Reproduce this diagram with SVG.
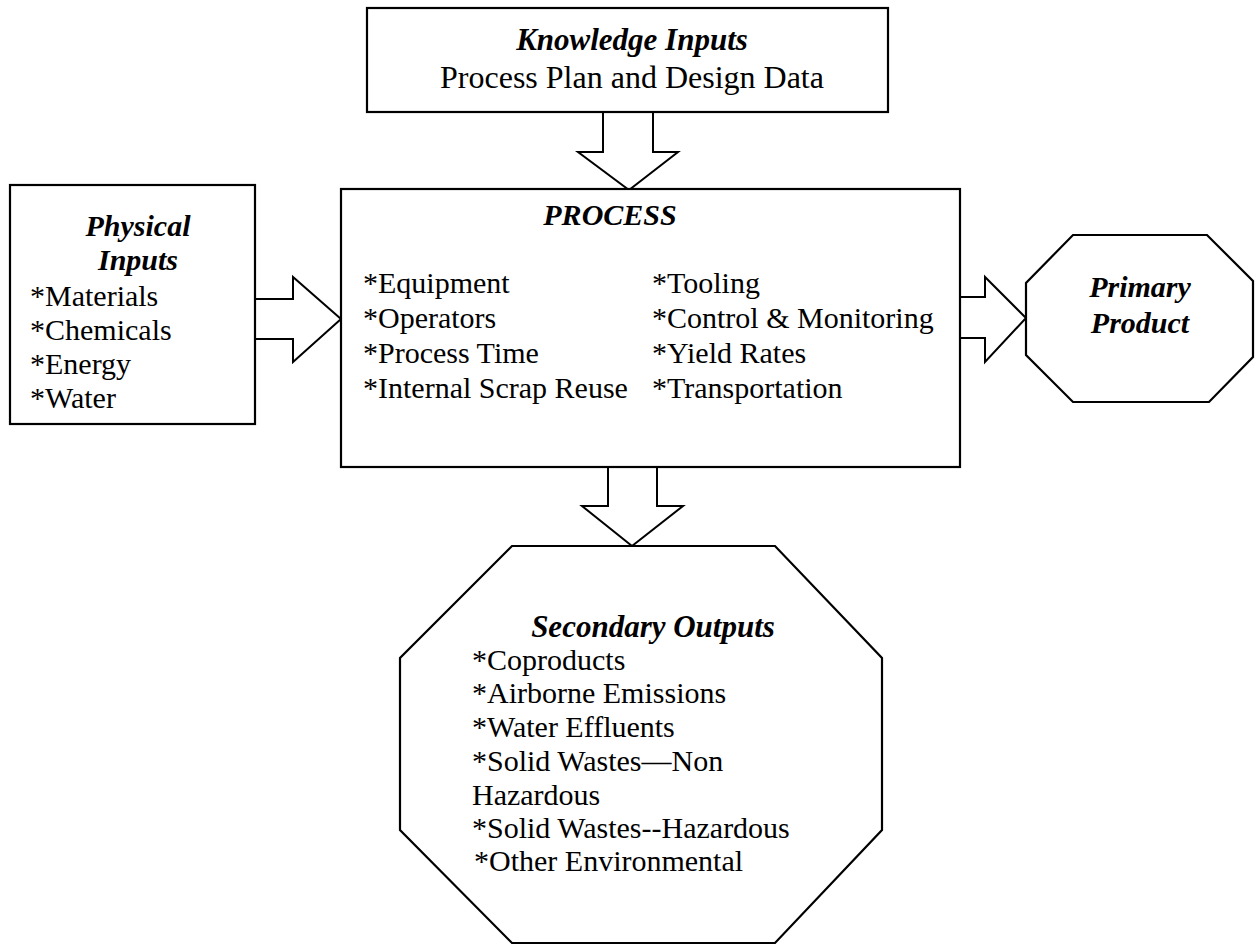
<svg xmlns="http://www.w3.org/2000/svg" width="1259" height="949" viewBox="0 0 1259 949">
<style>
.box{fill:#fff;stroke:#000;stroke-width:2.2}
.arr{fill:#fff;stroke:#000;stroke-width:2;stroke-linejoin:miter}
.t{font-family:"Liberation Serif","Times New Roman",serif;font-size:30px;fill:#000}
.h{font-family:"Liberation Serif","Times New Roman",serif;font-size:30px;font-weight:bold;font-style:italic;fill:#000}
.c{text-anchor:middle}
</style>
<rect width="1259" height="949" fill="#fff"/>
<g id="connectors">
<polygon class="arr" points="603,112 653,112 653,152 678,152 629,190 578,152 603,152"/>
<polygon class="arr" points="255,299 293,299 293,277 341,319 293,362 293,339 255,339"/>
<polygon class="arr" points="960,297 985,297 985,277 1026,318 985,362 985,338 960,338"/>
<polygon class="arr" points="608,467 657,467 657,506 683,506 632,546 582,506 608,506"/>
</g>
<g id="knowledge">
<rect class="box" x="367" y="8" width="521" height="104"/>
<text class="h c" x="632" y="50" style="font-size:31px">Knowledge Inputs</text>
<text class="t c" x="632" y="88" style="font-size:32px">Process Plan and Design Data</text>
</g>
<g id="physical">
<rect class="box" x="10" y="185" width="245" height="239"/>
<text class="h c" x="138" y="236">Physical</text>
<text class="h c" x="138" y="270">Inputs</text>
<text class="t" x="30" y="306">*Materials</text>
<text class="t" x="30" y="340">*Chemicals</text>
<text class="t" x="30" y="374">*Energy</text>
<text class="t" x="30" y="408">*Water</text>
</g>
<g id="process">
<rect class="box" x="341" y="189" width="619" height="278"/>
<text class="h c" x="610" y="225">PROCESS</text>
<text class="t" x="363" y="293">*Equipment</text>
<text class="t" x="363" y="328">*Operators</text>
<text class="t" x="363" y="363">*Process Time</text>
<text class="t" x="363" y="398">*Internal Scrap Reuse</text>
<text class="t" x="652" y="293">*Tooling</text>
<text class="t" x="652" y="328">*Control &amp; Monitoring</text>
<text class="t" x="652" y="363">*Yield Rates</text>
<text class="t" x="652" y="398">*Transportation</text>
</g>
<g id="primary">
<polygon class="box" points="1073,235 1207,235 1253,281 1253,357 1209,402 1073,402 1026,355 1026,283"/>
<text class="h c" x="1140" y="297">Primary</text>
<text class="h c" x="1140" y="333">Product</text>
</g>
<g id="secondary">
<polygon class="box" points="512,546 775,546 882,658 882,830 775,943 512,943 400,830 400,658"/>
<text class="h c" x="653" y="637" style="font-size:31px">Secondary Outputs</text>
<text class="t" x="472" y="670">*Coproducts</text>
<text class="t" x="472" y="703">*Airborne Emissions</text>
<text class="t" x="472" y="737">*Water Effluents</text>
<text class="t" x="472" y="771">*Solid Wastes—Non</text>
<text class="t" x="472" y="805">Hazardous</text>
<text class="t" x="472" y="838">*Solid Wastes--Hazardous</text>
<text class="t" x="474" y="871">*Other Environmental</text>
</g>
</svg>
